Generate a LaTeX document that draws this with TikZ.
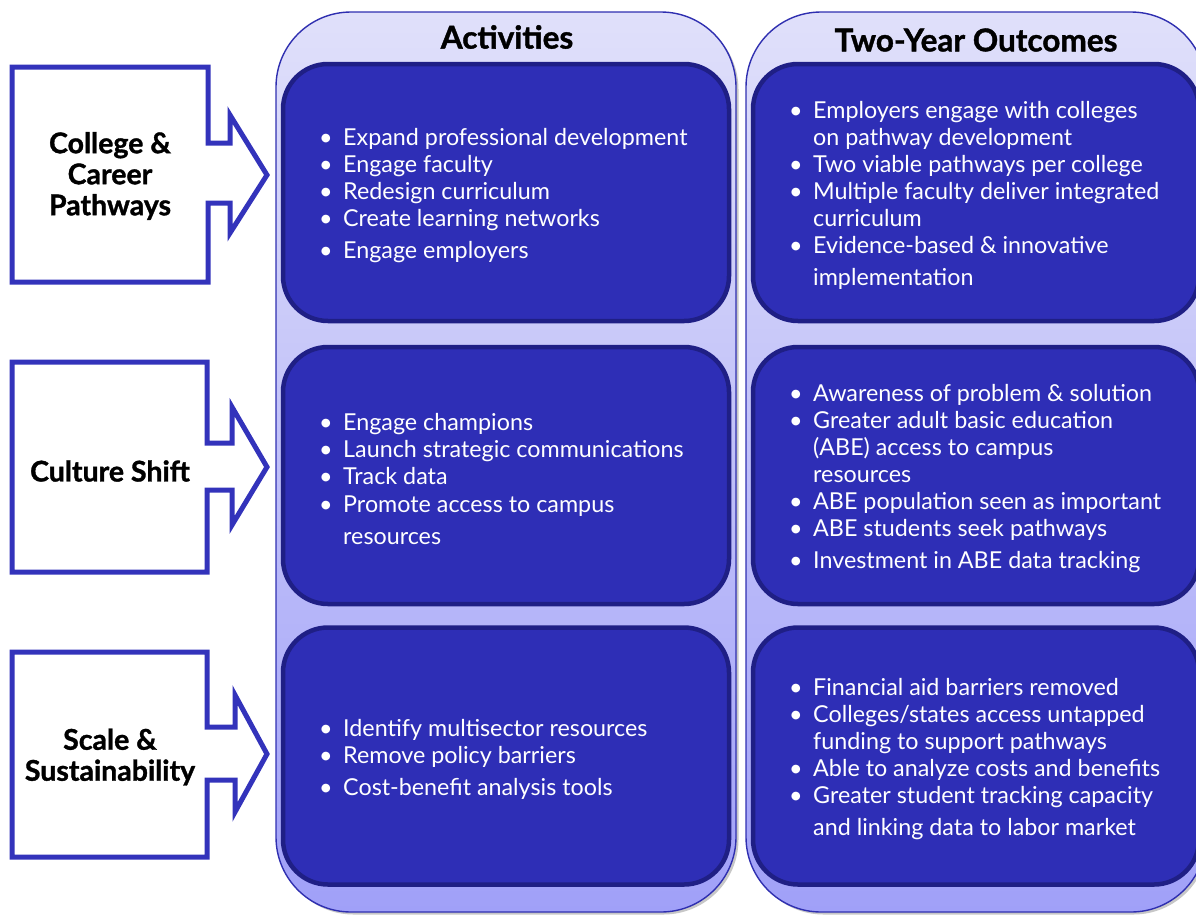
\documentclass[tikz,border=0pt]{standalone}
\usepackage{fontspec}
\setmainfont{Lato}
\definecolor{arrowblue}{HTML}{3333BB}
\definecolor{boxfill}{HTML}{2E2EB6}
\definecolor{boxedge}{HTML}{1F1F85}
\definecolor{coltop}{HTML}{E0E0FA}
\definecolor{colbot}{HTML}{A0A0F8}
\definecolor{coledge}{HTML}{2F2FB0}
\newcommand{\bitem}[1]{\makebox[22pt][l]{\hspace{-2pt}\textbullet}#1}
\newcommand{\bcont}[1]{\hspace*{22pt}#1}
\newcommand{\heavy}{\bfseries\addfontfeatures{FakeBold=1.2}}
\begin{document}
\begin{tikzpicture}[x=1pt,y=-1pt,
  colshadow/.style={fill=black!22,rounded corners=75pt},
  column/.style={draw=coledge,line width=1.4pt,top color=coltop,bottom color=colbot,
    rounded corners=75pt,minimum width=460pt,minimum height=900pt,inner sep=0pt},
  blockbox/.style={draw=boxedge,line width=4.5pt,fill=boxfill,rounded corners=45pt,
    minimum width=446pt,minimum height=257pt,inner sep=0pt},
  header/.style={font=\fontsize{31.5}{34}\selectfont\heavy,text=black},
  itemlist/.style={anchor=west,align=left,text=white,inner sep=0pt,
    font=\fontsize{23.3}{27}\selectfont},
  sidelabel/.style={align=center,font=\fontsize{28.5}{31}\selectfont\heavy,text=black},
  sidearrow/.style={draw=arrowblue,line width=5pt,fill=white,line join=miter}]
\useasboundingbox (0,0) rectangle (1196,914);
\clip (0,0) rectangle (1196,914);

% side arrows with their labels
\draw[sidearrow] (12,67) -- (208,67) -- (208,143) -- (230,143) -- (230,115) -- (267,175)
  -- (230,233) -- (230,203) -- (208,203) -- (208,282) -- (12,282) -- cycle;
\draw[sidearrow] (12,362) -- (207,362) -- (207,443) -- (232,443) -- (232,407) -- (267,467)
  -- (232,525) -- (232,490) -- (207,490) -- (207,572) -- (12,572) -- cycle;
\draw[sidearrow] (12,652) -- (207,652) -- (207,727) -- (235,727) -- (235,695) -- (267,754)
  -- (235,812) -- (235,780) -- (207,780) -- (207,857) -- (12,857) -- cycle;
\node[sidelabel] (lab1) at (110,176) {College \&\\Career\\Pathways};
\node[sidelabel] (lab2) at (110,471) {Culture Shift};
\node[sidelabel] (lab3) at (110,757) {Scale \&\\Sustainability};

% columns
\fill[colshadow] (278.5,14.5) rectangle (738.5,914.5);
\fill[colshadow] (748.5,14.5) rectangle (1208.5,914.5);
\node[column] (colact) at (506,462) {};
\node[column] (colout) at (976,462) {};
\node[header] (hact) at (507,37) {Activities};
\node[header] (hout) at (976,40) {Two-Year Outcomes};

% activity blocks
\node[blockbox] (act1) at (506,192.5) {};
\node[blockbox] (act2) at (506,475.5) {};
\node[blockbox] (act3) at (506,756) {};
% outcome blocks
\node[blockbox] (out1) at (976,192.5) {};
\node[blockbox] (out2) at (976,475.5) {};
\node[blockbox] (out3) at (976,756) {};

% activity texts
\node[itemlist] (act1t) at (321,195.5) {%
  \bitem{Expand professional development}\\
  \bitem{Engage faculty}\\
  \bitem{Redesign curriculum}\\
  \bitem{Create learning networks}\\[5pt]
  \bitem{Engage employers}};
\node[itemlist] (act2t) at (321,479) {%
  \bitem{Engage champions}\\
  \bitem{Launch strategic communications}\\
  \bitem{Track data}\\
  \bitem{Promote access to campus}\\[5pt]
  \bcont{resources}};
\node[itemlist] (act3t) at (321,759) {%
  \bitem{Identify multisector resources}\\
  \bitem{Remove policy barriers}\\[5pt]
  \bitem{Cost-benefit analysis tools}};

% outcome texts
\node[itemlist] (out1t) at (791,195.5) {%
  \bitem{Employers engage with colleges}\\
  \bcont{on pathway development}\\
  \bitem{Two viable pathways per college}\\
  \bitem{Multiple faculty deliver integrated}\\
  \bcont{curriculum}\\
  \bitem{Evidence-based \& innovative}\\[5pt]
  \bcont{implementation}};
\node[itemlist] (out2t) at (791,478.5) {%
  \bitem{Awareness of problem \& solution}\\
  \bitem{Greater adult basic education}\\
  \bcont{(ABE) access to campus}\\
  \bcont{resources}\\
  \bitem{ABE population seen as important}\\
  \bitem{ABE students seek pathways}\\[5pt]
  \bitem{Investment in ABE data tracking}};
\node[itemlist] (out3t) at (791,759) {%
  \bitem{Financial aid barriers removed}\\
  \bitem{Colleges/states access untapped}\\
  \bcont{funding to support pathways}\\
  \bitem{Able to analyze costs and benefits}\\
  \bitem{Greater student tracking capacity}\\[5pt]
  \bcont{and linking data to labor market}};
\end{tikzpicture}
\end{document}
